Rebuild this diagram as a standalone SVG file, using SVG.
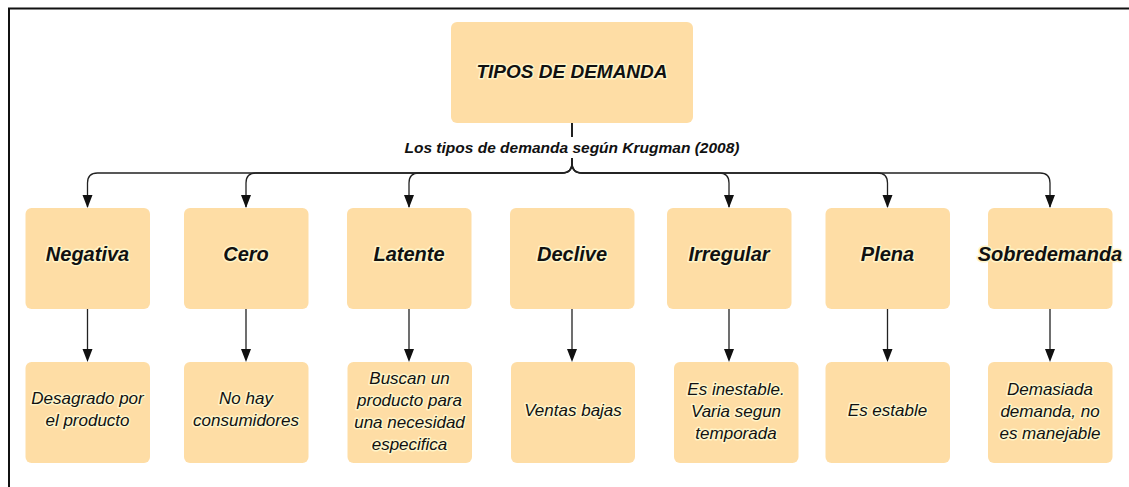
<svg xmlns="http://www.w3.org/2000/svg" width="1129" height="487" viewBox="0 0 1129 487">
<style>
.box{fill:#FEDDA5;}
.t{font-family:"Liberation Sans",Arial,sans-serif;font-style:italic;text-anchor:middle;fill:#111;paint-order:stroke;stroke:#FFF4C8;stroke-width:3px;stroke-linejoin:round;}
.h{font-weight:bold;font-size:20px;}
.r{font-size:19px;font-weight:bold;}
.d{font-size:17px;}
.c{fill:none;stroke:#222;stroke-width:1.3;}
.lbl{font-family:"Liberation Sans",Arial,sans-serif;font-style:italic;font-weight:bold;font-size:15.5px;text-anchor:middle;fill:#111;}
</style>
<rect width="1129" height="487" fill="#fff"/>
<path d="M9,487 V8.5 H1129" fill="none" stroke="#111" stroke-width="2"/>

<g id="connectors">
<path class="c" d="M572,123 V163 Q572,173 562,173 H97.5 Q87.5,173 87.5,183 V207"/>
<path class="c" d="M572,123 V163 Q572,173 562,173 H256 Q246,173 246,183 V207"/>
<path class="c" d="M572,123 V163 Q572,173 562,173 H419 Q409,173 409,183 V207"/>
<path class="c" d="M572,123 V163 Q572,173 582,173 H719 Q729,173 729,183 V207"/>
<path class="c" d="M572,123 V163 Q572,173 582,173 H877.5 Q887.5,173 887.5,183 V207"/>
<path class="c" d="M572,123 V163 Q572,173 582,173 H1040 Q1050,173 1050,183 V207"/>
<path d="M82.5,195 L92.5,195 L87.5,208 Z M241,195 L251,195 L246,208 Z M404,195 L414,195 L409,208 Z M724,195 L734,195 L729,208 Z M882.5,195 L892.5,195 L887.5,208 Z M1045,195 L1055,195 L1050,208 Z" fill="#111"/>
<path class="c" d="M87.5,309 V350 M246,309 V350 M409,309 V350 M572,309 V350 M729,309 V350 M887.5,309 V350 M1050,309 V350"/>
<path d="M82.5,349 L92.5,349 L87.5,362 Z M241,349 L251,349 L246,362 Z M404,349 L414,349 L409,362 Z M567,349 L577,349 L572,362 Z M724,349 L734,349 L729,362 Z M882.5,349 L892.5,349 L887.5,362 Z M1045,349 L1055,349 L1050,362 Z" fill="#111"/>
<rect x="400" y="137" width="344" height="21" fill="#fff"/>
<text class="lbl" x="572" y="152.5">Los tipos de demanda según Krugman (2008)</text>
</g>

<g id="root"><rect class="box" x="451" y="22" width="242" height="101" rx="6"/><text class="t r" x="572" y="78">TIPOS DE DEMANDA</text></g>

<g id="negativa"><rect class="box" x="25.5" y="208" width="124.5" height="101" rx="6"/><text class="t h" x="87.5" y="261">Negativa</text></g>
<g id="cero"><rect class="box" x="184" y="208" width="124.5" height="101" rx="6"/><text class="t h" x="246" y="261">Cero</text></g>
<g id="latente"><rect class="box" x="347" y="208" width="124.5" height="101" rx="6"/><text class="t h" x="409" y="261">Latente</text></g>
<g id="declive"><rect class="box" x="510" y="208" width="124.5" height="101" rx="6"/><text class="t h" x="572" y="261">Declive</text></g>
<g id="irregular"><rect class="box" x="667" y="208" width="124.5" height="101" rx="6"/><text class="t h" x="729" y="261">Irregular</text></g>
<g id="plena"><rect class="box" x="825.5" y="208" width="124.5" height="101" rx="6"/><text class="t h" x="887.5" y="261">Plena</text></g>
<g id="sobredemanda"><rect class="box" x="988" y="208" width="124.5" height="101" rx="6"/><text class="t h" x="1050" y="261">Sobredemanda</text></g>

<g id="d-negativa"><rect class="box" x="25.5" y="362" width="124.5" height="101" rx="6"/><text class="t d" x="87.5" y="404">Desagrado por</text><text class="t d" x="87.5" y="426">el producto</text></g>
<g id="d-cero"><rect class="box" x="184" y="362" width="124.5" height="101" rx="6"/><text class="t d" x="246" y="404">No hay</text><text class="t d" x="246" y="426">consumidores</text></g>
<g id="d-latente"><rect class="box" x="347.5" y="362" width="124.5" height="101" rx="6"/><text class="t d" x="409.5" y="384">Buscan un</text><text class="t d" x="409.5" y="406">producto para</text><text class="t d" x="409.5" y="428">una necesidad</text><text class="t d" x="409.5" y="450">especifica</text></g>
<g id="d-declive"><rect class="box" x="511" y="362" width="124" height="101" rx="6"/><text class="t d" x="573" y="416">Ventas bajas</text></g>
<g id="d-irregular"><rect class="box" x="674" y="362" width="124.5" height="101" rx="6"/><text class="t d" x="736" y="395">Es inestable.</text><text class="t d" x="736" y="417">Varia segun</text><text class="t d" x="736" y="439">temporada</text></g>
<g id="d-plena"><rect class="box" x="825.5" y="362" width="124.5" height="101" rx="6"/><text class="t d" x="887.5" y="416">Es estable</text></g>
<g id="d-sobredemanda"><rect class="box" x="988" y="362" width="124.5" height="101" rx="6"/><text class="t d" x="1050" y="395">Demasiada</text><text class="t d" x="1050" y="417">demanda, no</text><text class="t d" x="1050" y="439">es manejable</text></g>
</svg>
